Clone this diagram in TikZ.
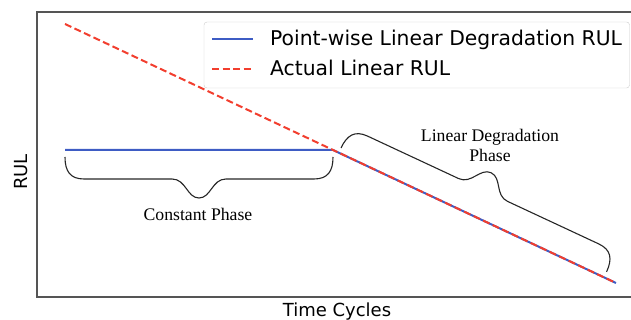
\documentclass[tikz,border=0pt]{standalone}
\usepackage{fontspec}
\setmainfont{Liberation Serif}
\newfontfamily\plotfont{DejaVu Sans}
\definecolor{rulblue}{RGB}{62,92,196}
\definecolor{rulred}{RGB}{242,62,46}
\definecolor{framegray}{RGB}{85,85,85}

\tikzset{
  pics/phasebrace/.style={code={
    \draw[line width=1.1pt, black!85]
      (0,0) .. controls (0,14) and (5,22) .. (19,22) -- (#1/2-27,22)
      .. controls (#1/2-13,22) and (#1/2-12,41) .. (#1/2,41)
      .. controls (#1/2+12,41) and (#1/2+13,22) .. (#1/2+27,22) -- (#1-19,22)
      .. controls (#1-5,22) and (#1,14) .. (#1,0);
  }}
}

\begin{document}
\begin{tikzpicture}[x=1pt, y=1pt,
    phaselabel/.style={font=\fontsize{17.7}{20}\selectfont, align=center, inner sep=0pt},
    axislabel/.style={font=\plotfont\fontsize{18}{20}\selectfont, inner sep=0pt},
    legendtext/.style={font=\plotfont\fontsize{20.3}{22}\selectfont, anchor=base west, inner sep=0pt},
    rulline/.style={line width=2pt}]
    \useasboundingbox (0,0) rectangle (631,320);
    % Axes frame (right side runs off the page)
    \draw[framegray, line width=1.4pt] (631,308) -- (37,308) -- (37,23) -- (631,23);
    % Point-wise RUL: constant, then linear
    \draw[rulline, rulblue] (65,170) -- (333,170) -- (616,37);
    % Actual linear RUL
    \draw[rulline, rulred, dash pattern=on 7pt off 3.5pt] (65,296) -- (616,37);
    % Phase braces
    \pic[yscale=-1] (constbrace) at (65,163) {phasebrace=268};
    \pic[rotate=-25] (linbrace) at (341,172) {phasebrace=293};
    \node[phaselabel] (constant) at (198,106) {Constant Phase};
    \node[phaselabel] (linear) at (490,175) {Linear Degradation\\Phase};
    % Axis labels
    \node[axislabel, anchor=base] (xlabel) at (337,3) {Time Cycles};
    \node[axislabel, rotate=90] (ylabel) at (21,148) {RUL};
    % Legend
    \draw[black!20, fill=white, rounded corners=3pt] (204,232) rectangle (629.5,298);
    \draw[rulline, rulblue] (212,281) -- (253,281);
    \draw[rulline, rulred, dash pattern=on 7pt off 3.5pt] (212,251) -- (253,251);
    \node[legendtext] (pointwise) at (270,274) {Point-wise Linear Degradation RUL};
    \node[legendtext] (actual) at (270,244) {Actual Linear RUL};
\end{tikzpicture}
\end{document}
